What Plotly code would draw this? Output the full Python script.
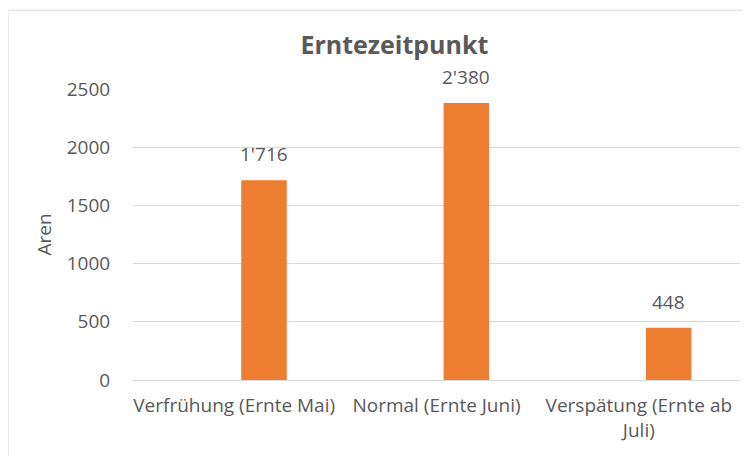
import plotly.graph_objects as go

# Erntezeitpunkt data
categories = ["Verfrühung (Ernte Mai)", "Normal (Ernte Juni)", "Verspätung (Ernte ab<br>Juli)"]
aren = [1716, 2380, 448]
y_ticks = [0, 500, 1000, 1500, 2000, 2500]

grey = "#595959"
font_family = "Open Sans"

labels = [f"{v:,}".replace(",", "'") for v in aren]

# page body has an 8px margin, so the figure is a bit smaller than the window
W, H = 743, 448
ml, mr, mt, mb = 125, 11, 81, 76
bar_w, bar_off = 0.225, 0.035
cat_px = (W - ml - mr) / len(categories)

fig = go.Figure()
fig.add_trace(
    go.Bar(
        x=categories,
        y=aren,
        marker={"color": "#ED7D31", "line": {"width": 0}},
        width=bar_w,
        offset=bar_off,
        hoverinfo="x+y",
    )
)

# value labels above the bars (with the excel style apostrophe separator)
for c, v, t in zip(categories, aren, labels):
    fig.add_annotation(
        x=c, y=v, text=t, showarrow=False,
        yanchor="bottom", yshift=11,
        xshift=(bar_off + bar_w / 2) * cat_px,
        font={"size": 19, "color": grey, "family": font_family},
    )

# light border around the chart area
fig.add_shape(
    type="rect", xref="paper", yref="paper",
    x0=-0.206, x1=1.2, y0=-0.6, y1=1.271,
    line={"color": "#d9d9d9", "width": 1},
    fillcolor="rgba(0,0,0,0)", layer="below",
)

fig.update_layout(
    width=W,
    height=H,
    margin={"l": ml, "r": mr, "t": mt, "b": mb},
    plot_bgcolor="white",
    paper_bgcolor="white",
    showlegend=False,
    font={"family": font_family, "color": grey, "size": 19},
    title={
        "text": "<b>Erntezeitpunkt</b>",
        "x": 0.52, "xanchor": "center",
        "y": 0.917, "yanchor": "middle",
        "font": {"size": 25, "color": grey, "family": font_family},
    },
    xaxis={
        "showgrid": False,
        "showline": True,
        "linecolor": "#d9d9d9",
        "linewidth": 1,
        "ticks": "outside",
        "ticklen": 8,
        "tickcolor": "rgba(0,0,0,0)",
        "tickfont": {"size": 19, "color": grey},
    },
    yaxis={
        "range": [0, 2500],
        "tickvals": y_ticks,
        "showgrid": True,
        "gridcolor": "#d9d9d9",
        "gridwidth": 1,
        "zeroline": False,
        "showline": False,
        "ticks": "outside",
        "ticklen": 18,
        "tickcolor": "rgba(0,0,0,0)",
        "tickfont": {"size": 19, "color": grey},
        "title": {"text": "Aren", "font": {"size": 19, "color": grey}, "standoff": 10},
    },
)

fig.write_html("out.html")
